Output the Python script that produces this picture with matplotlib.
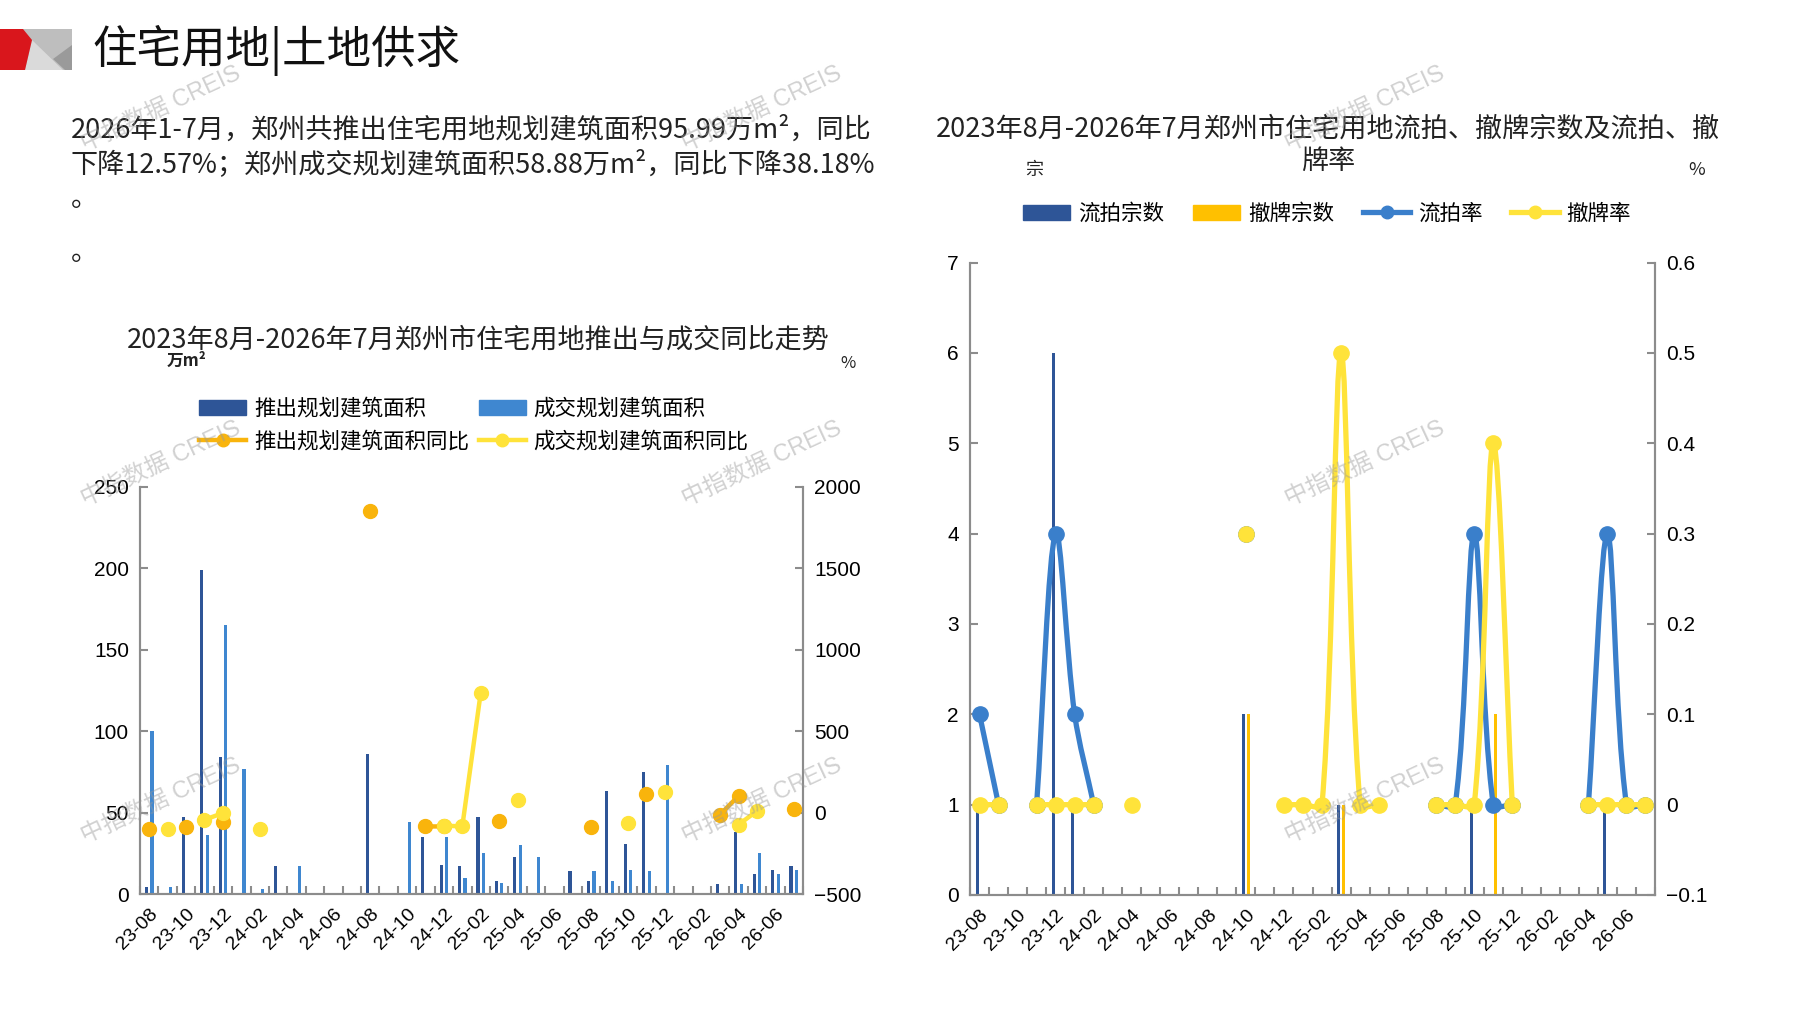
import numpy as np
import matplotlib
matplotlib.use("Agg")
import matplotlib.pyplot as plt
from matplotlib.patches import Polygon, Patch, PathPatch
from matplotlib.path import Path
from matplotlib.lines import Line2D

plt.rcParams['font.family'] = ['Noto Sans CJK SC', 'DejaVu Sans']

# ---- data ----
months = ['23-08', '23-09', '23-10', '23-11', '23-12', '24-01', '24-02', '24-03', '24-04',
          '24-05', '24-06', '24-07', '24-08', '24-09', '24-10', '24-11', '24-12', '25-01',
          '25-02', '25-03', '25-04', '25-05', '25-06', '25-07', '25-08', '25-09', '25-10',
          '25-11', '25-12', '26-01', '26-02', '26-03', '26-04', '26-05', '26-06', '26-07']

# 左图：万m²
push_area = [4, 0, 47, 199, 84, 0, 0, 17, 0, 0, 0, 0, 86, 0, 0, 35, 18, 17,
             47, 8, 23, 0, 0, 14, 8, 63, 31, 75, 0, 0, 0, 6, 38, 12, 15, 17]
deal_area = [100, 4, 0, 36, 165, 77, 3, 0, 17, 0, 0, 0, 0, 0, 44, 0, 35, 10,
             25, 7, 30, 23, 0, 0, 14, 8, 15, 14, 79, 0, 0, 0, 6, 25, 12, 15]
nan = np.nan
# 左图：同比 %
push_yoy = [-100, nan, -89, nan, -56, nan, nan, nan, nan, nan, nan, nan, 1850, nan, nan, -85, -85, nan,
            nan, -50, nan, nan, nan, nan, -91, nan, nan, 114, nan, nan, nan, -12, 103, nan, nan, 23]
deal_yoy = [nan, -100, nan, -44, -3, nan, -100, nan, nan, nan, nan, nan, nan, nan, nan, nan, -80, -85,
            736, nan, 80, nan, nan, nan, nan, nan, -64, nan, 124, nan, nan, nan, -74, 10, nan, nan]

# 右图：宗数
fail_cnt = [1, 0, 0, 0, 6, 1, 0, 0, 0, 0, 0, 0, 0, 0, 2, 0, 0, 0,
            0, 1, 0, 0, 0, 0, 0, 0, 1, 0, 0, 0, 0, 0, 0, 1, 0, 0]
withdraw_cnt = [0, 0, 0, 0, 0, 0, 0, 0, 0, 0, 0, 0, 0, 0, 2, 0, 0, 0,
                0, 1, 0, 0, 0, 0, 0, 0, 0, 2, 0, 0, 0, 0, 0, 0, 0, 0]
# 右图：比率
fail_rate = [0.1, 0, nan, 0, 0.3, 0.1, 0, nan, nan, nan, nan, nan, nan, nan, 0.3, nan, nan, nan,
             nan, nan, nan, nan, nan, nan, 0, 0, 0.3, 0, 0, nan, nan, nan, 0, 0.3, 0, 0]
withdraw_rate = [0, 0, nan, 0, 0, 0, 0, nan, 0, nan, nan, nan, nan, nan, 0.3, nan, 0, 0,
                 0, 0.5, 0, 0, nan, nan, 0, 0, 0, 0.4, 0, nan, nan, nan, 0, 0, 0, 0]

left_yticks = [0, 50, 100, 150, 200, 250]
left_y2ticks = [-500, 0, 500, 1000, 1500, 2000]
right_yticks = [0, 1, 2, 3, 4, 5, 6, 7]
right_y2ticks = [-0.1, 0, 0.1, 0.2, 0.3, 0.4, 0.5, 0.6]
right_y2labels = ['\u22120.1', '0', '0.1', '0.2', '0.3', '0.4', '0.5', '0.6']

# ---- colours ----
C_DARK = '#2E5597'
C_LIGHT = '#3F87D0'
C_ORANGE = '#F9B40C'
C_YELLOW = '#FFE33A'
C_BLUE = '#3A7FCB'
C_GOLD = '#FFC000'
C_AXIS = '#8C8C8C'

W, H = 1797, 1010
fig = plt.figure(figsize=(W / 100, H / 100), dpi=100)


def fx(x):
    return x / W


def fy(y):
    return 1 - y / H


# ---- header ----
def poly(pts, color):
    fig.add_artist(Polygon([(fx(x), fy(y)) for x, y in pts], closed=True,
                           transform=fig.transFigure, color=color, lw=0))


poly([(23, 29), (72, 29), (72, 70), (23, 70)], '#BEBEBE')
poly([(32, 40), (25, 70), (63, 70)], '#DADADA')
poly([(53, 59), (72, 45), (72, 70), (65, 70)], '#9A9A9A')
poly([(0, 29), (23, 29), (32, 40), (25, 70), (0, 70)], '#D9161C')

fig.text(fx(92), fy(50), '住宅用地|土地供求', fontsize=32, va='center', ha='left', color='#111111')

para = ['2026年1-7月，郑州共推出住宅用地规划建筑面积95.99万m²，同比',
        '下降12.57%；郑州成交规划建筑面积58.88万m²，同比下降38.18%',
        '。', '', '。']
fig.text(fx(71), fy(130), para[0], fontsize=19.5, va='center', ha='left', color='#222222')
fig.text(fx(71), fy(164), para[1], fontsize=19.5, va='center', ha='left', color='#222222')
fig.text(fx(71), fy(198), para[2], fontsize=19.5, va='center', ha='left', color='#222222')
fig.text(fx(71), fy(252), para[4], fontsize=19.5, va='center', ha='left', color='#222222')

x = np.arange(len(months))
bounds = np.arange(len(months) + 1) - 0.5


def style_axes(ax, ax2):
    for a in (ax, ax2):
        a.spines['top'].set_visible(False)
        for s in ('left', 'right', 'bottom'):
            a.spines[s].set_color(C_AXIS)
            a.spines[s].set_linewidth(1.5)
    ax.set_xlim(-0.5, len(months) - 0.5)
    ax.set_xticks(x[::2])
    ax.set_xticklabels(months[::2], rotation=45, ha='right', rotation_mode='anchor',
                       family=['Liberation Sans'], fontsize=14)
    ax.tick_params(axis='x', length=0, pad=8)
    ax.set_xticks(bounds, minor=True)
    ax.tick_params(axis='x', which='minor', direction='in', length=6, color=C_AXIS, width=1.5)
    ax.tick_params(axis='y', direction='in', length=6, color=C_AXIS, width=1.5, pad=8)
    ax2.tick_params(axis='y', direction='in', length=6, color=C_AXIS, width=1.5, pad=8)
    for lab in ax.get_yticklabels() + ax2.get_yticklabels():
        lab.set_family(['Liberation Sans'])
        lab.set_fontsize(15)


def smooth_line(ax, xs, ys, color, lw, ms, z):
    # Excel-like smoothed line, built in screen space through each run of valid points
    ys = np.asarray(ys, dtype=float)
    ok = ~np.isnan(ys)
    runs, cur = [], []
    for i in range(len(ys)):
        if ok[i]:
            cur.append(i)
        elif cur:
            runs.append(cur)
            cur = []
    if cur:
        runs.append(cur)
    tr = ax.transData
    inv = tr.inverted()
    for r in runs:
        if len(r) < 2:
            continue
        p = tr.transform(np.column_stack([xs[r], ys[r]]))
        n = len(p)
        d = np.linalg.norm(np.diff(p, axis=0), axis=1)

        def tangent(k):
            a = p[k - 1] if k > 0 else p[k]
            b = p[k + 1] if k + 1 < n else p[k]
            return b - a

        def dl(k):
            return d[k] if 0 <= k < n - 1 else 0.0

        verts, codes = [p[0]], [Path.MOVETO]
        for k in range(n - 1):
            c1 = p[k] + tangent(k) * dl(k) / (dl(k - 1) + dl(k)) / 3
            c2 = p[k + 1] - tangent(k + 1) * dl(k) / (dl(k) + dl(k + 1)) / 3
            verts += [c1, c2, p[k + 1]]
            codes += [Path.CURVE4] * 3
        verts = inv.transform(np.array(verts))
        ax.add_patch(PathPatch(Path(verts, codes), fill=False, edgecolor=color, lw=lw,
                               capstyle='round', joinstyle='round', zorder=z))
    ax.plot(xs, ys, ls='none', marker='o', ms=ms, color=color, zorder=z)


# ---- left chart ----
axL = fig.add_axes([fx(140), fy(894), (803 - 140) / W, (894 - 487) / H])
axL2 = axL.twinx()
axL.bar(x - 0.15, push_area, width=0.17, color=C_DARK, zorder=2)
axL.bar(x + 0.15, deal_area, width=0.17, color=C_LIGHT, zorder=2)
axL.set_ylim(0, 250)
axL.set_yticks(left_yticks)
axL2.plot(x, push_yoy, color=C_ORANGE, lw=3.2, marker='o', ms=10, zorder=3)
axL2.plot(x, deal_yoy, color=C_YELLOW, lw=3.2, marker='o', ms=10, zorder=4)
axL2.set_ylim(-500, 2000)
axL2.set_yticks(left_y2ticks)
style_axes(axL, axL2)

fig.text(fx(478), fy(340), '2023年8月-2026年7月郑州市住宅用地推出与成交同比走势',
         fontsize=19.5, ha='center', va='center', color='#222222')
fig.text(fx(187), fy(361), '万m²', fontsize=12, ha='center', va='center', color='#222222',
         fontweight='bold')
fig.text(fx(848), fy(364), '%', fontsize=12, ha='center', va='center', color='#222222')

hL = [Patch(color=C_DARK), Line2D([], [], color=C_ORANGE, lw=3.2, marker='o', ms=9),
      Patch(color=C_LIGHT), Line2D([], [], color=C_YELLOW, lw=3.2, marker='o', ms=9)]
lL = ['推出规划建筑面积', '推出规划建筑面积同比', '成交规划建筑面积', '成交规划建筑面积同比']
fig.legend(hL, lL, loc='center left', bbox_to_anchor=(fx(199), fy(425)), ncol=2,
           frameon=False, fontsize=15.5, handlelength=2.2, handletextpad=0.35,
           columnspacing=0.45, labelspacing=0.5, borderpad=0, borderaxespad=0)

# ---- right chart ----
axR = fig.add_axes([fx(970), fy(895), (1655 - 970) / W, (895 - 262.6) / H])
axR2 = axR.twinx()
axR.bar(x - 0.13, fail_cnt, width=0.16, color=C_DARK, zorder=2)
axR.bar(x + 0.13, withdraw_cnt, width=0.16, color=C_GOLD, zorder=2)
axR.set_ylim(0, 7)
axR.set_yticks(right_yticks)
axR2.set_ylim(-0.1, 0.6)
axR2.set_yticks(right_y2ticks)
axR2.set_yticklabels(right_y2labels)
style_axes(axR, axR2)
smooth_line(axR2, x, fail_rate, C_BLUE, 3.8, 11, 3)
smooth_line(axR2, x, withdraw_rate, C_YELLOW, 3.8, 11, 4)
axR2.set_ylim(-0.1, 0.6)

fig.text(fx(1328), fy(129), '2023年8月-2026年7月郑州市住宅用地流拍、撤牌宗数及流拍、撤',
         fontsize=19.5, ha='center', va='center', color='#222222')
fig.text(fx(1328), fy(161), '牌率', fontsize=19.5, ha='center', va='center', color='#222222')
fig.text(fx(1034), fy(170), '宗', fontsize=13, ha='center', va='center', color='#222222')
fig.text(fx(1697), fy(170), '%', fontsize=13, ha='center', va='center', color='#222222')

hR = [Patch(color=C_DARK), Patch(color=C_GOLD),
      Line2D([], [], color=C_BLUE, lw=3.8, marker='o', ms=9),
      Line2D([], [], color=C_YELLOW, lw=3.8, marker='o', ms=9)]
lR = ['流拍宗数', '撤牌宗数', '流拍率', '撤牌率']
fig.legend(hR, lR, loc='center left', bbox_to_anchor=(fx(1023), fy(214)), ncol=4,
           frameon=False, fontsize=15.5, handlelength=2.2, handletextpad=0.35,
           columnspacing=1.35, borderpad=0, borderaxespad=0)

# ---- watermarks ----
for wx in (161, 762, 1365):
    for wy in (109, 464, 801):
        fig.text(fx(wx), fy(wy), '中指数据 CREIS', fontsize=17, rotation=25,
                 ha='center', va='center', color='#9A9A9A', alpha=0.45,
                 family=['Liberation Sans', 'Noto Sans CJK SC'], zorder=10)

fig.savefig('out.png', dpi=100)
